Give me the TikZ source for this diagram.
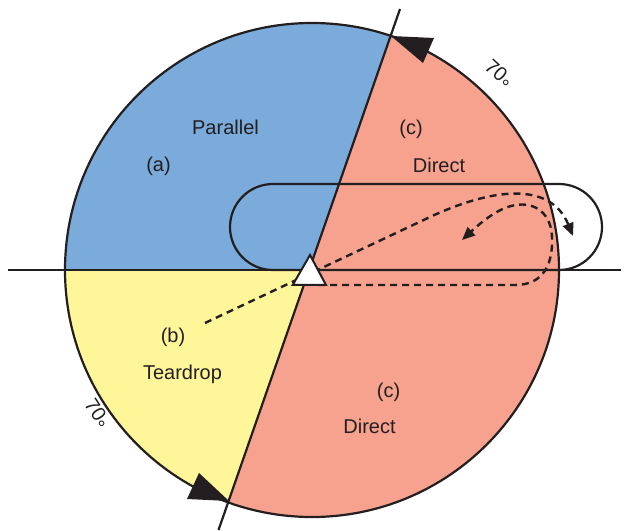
\documentclass[tikz,border=0pt]{standalone}
\usepackage{fontspec}
\setmainfont{Liberation Sans}
\usetikzlibrary{arrows.meta}
\definecolor{blueA}{RGB}{122,171,219}
\definecolor{yelB}{RGB}{255,246,154}
\definecolor{salC}{RGB}{246,162,142}
\definecolor{ink}{RGB}{35,31,32}
\tikzset{
  outline/.style={draw=ink,line width=2.2pt},
  dpath/.style={draw=ink,line width=2.4pt,dash pattern=on 7pt off 5pt,-{Triangle[length=13pt,width=11pt]}},
  lbl/.style={text=ink,inner sep=0pt,anchor=base,font=\fontsize{20}{24}\selectfont},
  deg/.style={text=ink,inner sep=0pt,anchor=center,font=\fontsize{20}{24}\selectfont},
  headtip/.style={fill=ink}
}
\newcommand{\lowdeg}{\kern0.5pt\raisebox{-7pt}{°}}
\begin{document}
\begin{tikzpicture}[x=1pt,y=1pt]
\useasboundingbox (0,0) rectangle (628,530);
\coordinate (C) at (312,260);
\coordinate (P) at (309,260);
\coordinate (T) at (390.6,494.1);
\coordinate (B) at (228.1,27.8);
\coordinate (L) at (65,260);
\coordinate (hl) at (8,260);
\coordinate (hr) at (621,260);
\coordinate (st) at (400,521);
\coordinate (sb) at (218.5,0);
% sectors
\fill[blueA] (P) -- (T) arc[start angle=71.4,end angle=180,radius=247] -- cycle;
\fill[yelB] (P) -- (L) arc[start angle=180,end angle=250.1,radius=247] -- cycle;
\fill[salC] (P) -- (B) arc[start angle=250.1,end angle=431.4,radius=247] -- cycle;
% outlines
\draw[outline] (C) circle[radius=247];
\draw[outline] (hl) -- (hr);
\draw[outline] (sb) -- (st);
% holding pattern
\draw[outline] [rounded corners=43pt] (230,260) rectangle (602,346);
% entry paths
\draw[dpath] (205,207) -- (430,313) .. controls (490,341) and (550,350) .. (573,294);
\draw[dpath] (318,245) -- (515,245) .. controls (545,245) and (553,268) .. (552,293) .. controls (551,320) and (530,332) .. (505,322) .. controls (490,316) and (475,302) .. (462,290);
% fix triangle
\coordinate (ta) at (310,275);
\coordinate (tl) at (292.7,245);
\coordinate (tr) at (326,245);
\filldraw[fill=white,draw=ink,line width=2pt,line join=miter] (ta) -- (tl) -- (tr) -- cycle;
% arrowheads on circle
\fill[headtip] (391,494) -- (434,492) -- (423,467) -- cycle;
\fill[headtip] (229,29) -- (187,31) -- (199,57) -- cycle;
% labels
\node[lbl] (par) at (225.5,395) {Parallel};
\node[lbl] (la) at (158.5,358) {(a)};
\node[lbl] (lc1) at (411,395) {(c)};
\node[lbl] (dir1) at (439,357) {Direct};
\node[lbl] (lb) at (173,187) {(b)};
\node[lbl] (tear) at (182.5,150) {Teardrop};
\node[lbl] (lc2) at (388.5,133) {(c)};
\node[lbl] (dir2) at (369.5,97) {Direct};
\node[deg,rotate=-42] (d1) at (497,454) {70\lowdeg};
\node[deg,rotate=-57] (d2) at (95,115) {70\lowdeg};
\end{tikzpicture}
\end{document}
